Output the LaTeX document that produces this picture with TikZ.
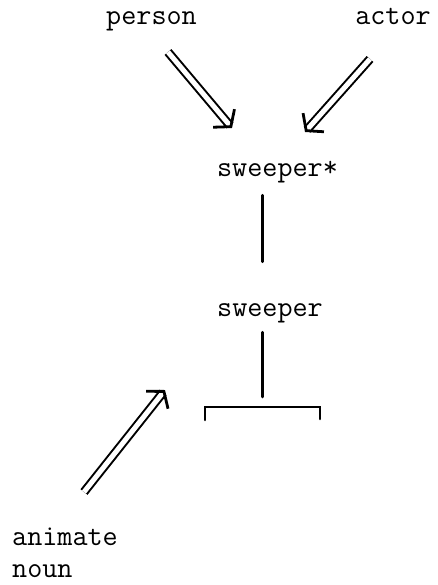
\documentclass[tikz,border=0pt]{standalone}
\usepackage{fontspec}
\usepackage{tikz}
\usetikzlibrary{arrows.meta,positioning}
\tikzstyle{wlabel} = [inner sep=0pt, text height=18pt, text depth=5pt,
                      font=\ttfamily\fontsize{29.3}{32}\selectfont]
\tikzstyle{wline}  = [line width=2.6pt, line cap=round]
\tikzstyle{warrow} = [double, double distance=5pt, line width=2pt,
                      -{Straight Barb[length=11pt, width=28pt, line width=2.8pt]}]

\begin{document}
\begin{tikzpicture}[x=1pt, y=-1pt]
\useasboundingbox (0,0) rectangle (437,585);
% Words
\node[wlabel, anchor=base] (person) at (151.5,25) {person};
\node[wlabel, anchor=base] (actor) at (393,25) {actor};
\node[wlabel, anchor=base] (sweeperstar) at (277.5,177) {sweeper*};
\node[wlabel, anchor=base] (sweeper) at (270,316) {sweeper};
\node[wlabel, anchor=base west, align=left] (animate) at (12,577) {animate\\noun};
% Bracket
\coordinate (bl) at (205,407);
\coordinate (br) at (320,407);
\coordinate (bm) at (262.5,407);
% Arrow ends
\coordinate (pfrom) at (168,52);
\coordinate (pto) at (232,128);
\coordinate (afrom) at (370,59);
\coordinate (ato) at (305,132);
\coordinate (nfrom) at (84,492);
\coordinate (nto) at (165,390);
% Lines
\draw[wline, shorten <=13pt, shorten >=36pt] (sweeperstar.south -| bm) -- (sweeper.north -| bm);
\draw[wline, shorten <=11pt, shorten >=10pt] (sweeper.south -| bm) -- (bm);
\draw[wline] ([yshift=-13pt]bl) -- (bl) -- (br) -- ([yshift=-12pt]br);
% Arrows
\draw[warrow] (pfrom) -- (pto);
\draw[warrow] (afrom) -- (ato);
\draw[warrow] (nfrom) -- (nto);
\end{tikzpicture}
\end{document}
